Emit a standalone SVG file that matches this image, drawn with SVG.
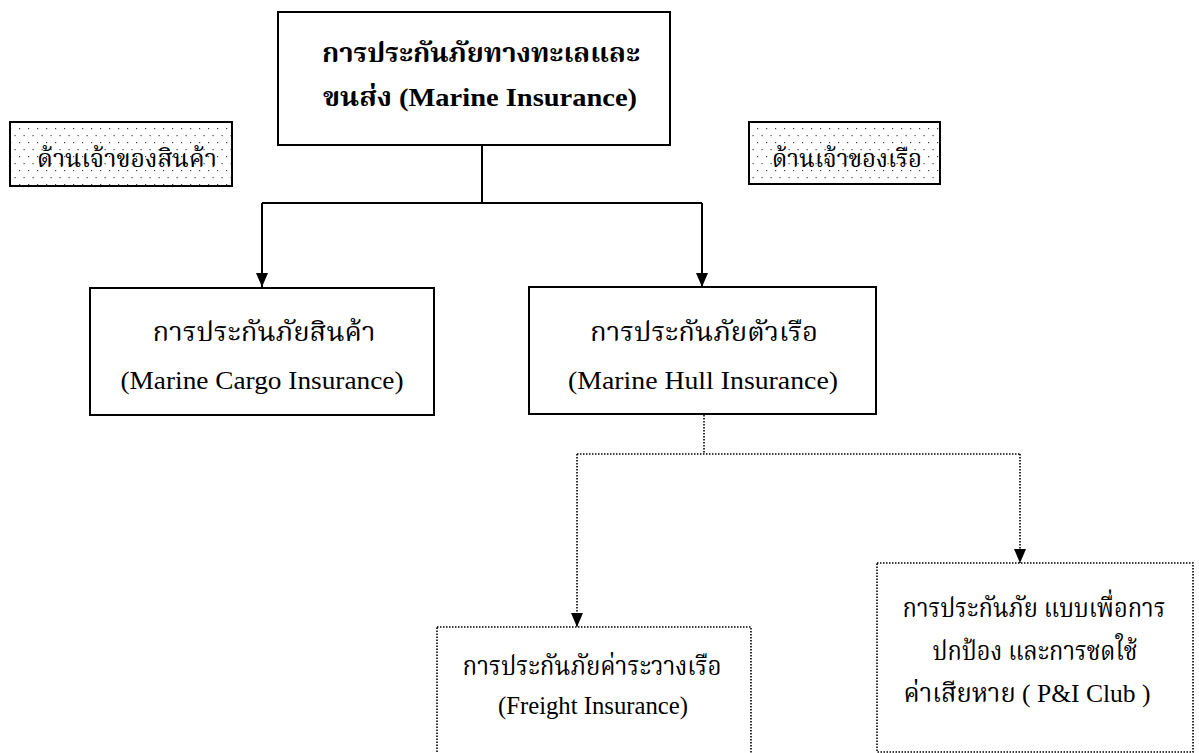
<svg xmlns="http://www.w3.org/2000/svg" width="1199" height="753" viewBox="0 0 1199 753">
<style>
.box{fill:#fff;stroke:#000;stroke-width:2}
.dbox{fill:#fff;stroke:#000;stroke-width:1.6;stroke-dasharray:1.5 1.5}
.lbl{fill:url(#dots);stroke:#000;stroke-width:2}
.ln{fill:none;stroke:#000;stroke-width:2}
.dln{fill:none;stroke:#000;stroke-width:1.6;stroke-dasharray:1.5 1.5}
text{font-family:"Liberation Serif","Noto Serif Thai","Noto Sans Thai","Noto Sans",serif;fill:#000;text-anchor:middle}
.b{font-weight:bold;font-size:26px}
.th{font-size:26px}
.en{font-size:25px}
.sm{font-size:24px}
</style>
<defs>
<pattern id="dots" width="9" height="14" patternUnits="userSpaceOnUse">
<rect width="9" height="14" fill="#fff"/>
<rect x="1" y="2" width="1.2" height="1.2" fill="#444"/>
<rect x="5.5" y="9" width="1.2" height="1.2" fill="#444"/>
</pattern>
<marker id="ah" markerWidth="14" markerHeight="12" refX="14" refY="6" orient="auto" markerUnits="userSpaceOnUse" viewBox="0 0 14 12">
<path d="M0,0 L14,6 L0,12 Z" fill="#000"/>
</marker>
</defs>
<g id="connectors">
<path class="ln" d="M482,145 V203 M262,203 H702"/>
<path class="ln" d="M262,203 V287" marker-end="url(#ah)"/>
<path class="ln" d="M702,203 V287" marker-end="url(#ah)"/>
<path class="dln" d="M704,415 V454 M577,454 H1020"/>
<path class="dln" d="M577,454 V627" marker-end="url(#ah)"/>
<path class="dln" d="M1020,454 V563" marker-end="url(#ah)"/>
</g>
<g id="marine">
<rect class="box" x="278" y="12" width="392" height="133"/>
<text class="b" x="481" y="62" textLength="318" lengthAdjust="spacingAndGlyphs">การประกันภัยทางทะเลและ</text>
<text class="b" x="480" y="106" textLength="314" lengthAdjust="spacingAndGlyphs">ขนส่ง (Marine Insurance)</text>
</g>
<g id="cargo-owner">
<rect class="lbl" x="10" y="122" width="222" height="64"/>
<text class="sm" x="127" y="167" textLength="180" lengthAdjust="spacingAndGlyphs">ด้านเจ้าของสินค้า</text>
</g>
<g id="ship-owner">
<rect class="lbl" x="749" y="122" width="191" height="62"/>
<text class="sm" x="847" y="167" textLength="150" lengthAdjust="spacingAndGlyphs">ด้านเจ้าของเรือ</text>
</g>
<g id="cargo">
<rect class="box" x="90" y="288" width="344" height="127"/>
<text class="th" x="264" y="341" textLength="223" lengthAdjust="spacingAndGlyphs">การประกันภัยสินค้า</text>
<text class="en" x="262" y="389" textLength="283" lengthAdjust="spacingAndGlyphs">(Marine Cargo Insurance)</text>
</g>
<g id="hull">
<rect class="box" x="529" y="287" width="347" height="127"/>
<text class="th" x="704" y="341" textLength="228" lengthAdjust="spacingAndGlyphs">การประกันภัยตัวเรือ</text>
<text class="en" x="703" y="389" textLength="270" lengthAdjust="spacingAndGlyphs">(Marine Hull Insurance)</text>
</g>
<g id="freight">
<rect class="dbox" x="437" y="627" width="314" height="140"/>
<text class="th" x="592" y="675" textLength="259" lengthAdjust="spacingAndGlyphs">การประกันภัยค่าระวางเรือ</text>
<text class="en" x="593" y="714" textLength="190" lengthAdjust="spacingAndGlyphs">(Freight Insurance)</text>
</g>
<g id="pandi">
<rect class="dbox" x="877" y="563" width="316" height="189"/>
<text class="th" x="1034" y="617" textLength="263" lengthAdjust="spacingAndGlyphs">การประกันภัย แบบเพื่อการ</text>
<text class="th" x="1035" y="660" textLength="205" lengthAdjust="spacingAndGlyphs">ปกป้อง และการชดใช้</text>
<text class="th" x="1027" y="702" textLength="247" lengthAdjust="spacingAndGlyphs">ค่าเสียหาย ( P&amp;I Club )</text>
</g>
</svg>
